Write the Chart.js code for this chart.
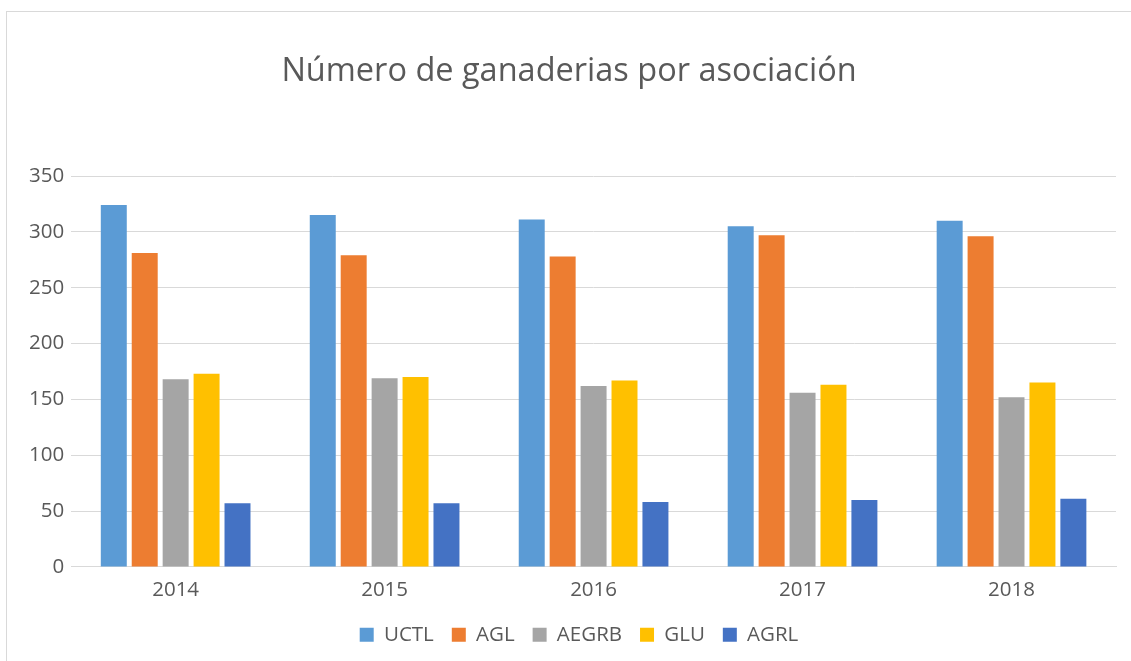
<!DOCTYPE html>
<html>
<head>
<meta charset="utf-8">
<script src="https://cdn.jsdelivr.net/npm/chart.js@4/dist/chart.umd.min.js"></script>
<style>
html,body{margin:0;padding:0;background:#fff;overflow:hidden;}
#frame{position:absolute;left:6px;top:11px;width:1140px;height:660px;border:1px solid #d9d9d9;box-sizing:border-box;}
#wrap{position:absolute;left:0;top:0;width:1131px;height:661px;}
</style>
</head>
<body>
<div id="frame"></div>
<div id="wrap"><canvas id="c" width="1131" height="661"></canvas></div>
<script>
const categories = ["2014", "2015", "2016", "2017", "2018"];
const seriesNames = ["UCTL", "AGL", "AEGRB", "GLU", "AGRL"];
const UCTL  = [324, 315, 311, 305, 310];
const AGL   = [281, 279, 278, 297, 296];
const AEGRB = [168, 169, 162, 156, 152];
const GLU   = [173, 170, 167, 163, 165];
const AGRL  = [57, 57, 58, 60, 61];
const yTicks = [0, 50, 100, 150, 200, 250, 300, 350];
const titleText = "Número de ganaderias por asociación";

const colors = ["#5B9BD5", "#ED7D31", "#A5A5A5", "#FFC000", "#4472C4"];
const values = [UCTL, AGL, AEGRB, GLU, AGRL];
const FONT = "'Open Sans', sans-serif";

const shiftLegend = {
  id: "shiftLegend",
  afterLayout(chart) {
    if (chart.legend) { chart.legend.left += 10; chart.legend.right += 10; }
  }
};

new Chart(document.getElementById("c"), {
  type: "bar",
  data: {
    labels: categories,
    datasets: seriesNames.map((n, i) => ({
      label: n,
      data: values[i],
      backgroundColor: colors[i],
      borderWidth: 0,
      categoryPercentage: 0.74,
      barPercentage: 0.84
    }))
  },
  plugins: [shiftLegend],
  options: {
    responsive: false,
    animation: false,
    layout: { padding: { left: 22, right: 15, top: 0, bottom: 6 } },
    plugins: {
      tooltip: { enabled: false },
      title: {
        display: true,
        text: titleText,
        color: "#595959",
        font: { family: FONT, size: 32.5, weight: "normal" },
        padding: { top: 52, bottom: 85 }
      },
      legend: {
        position: "bottom",
        labels: {
          color: "#595959",
          font: { family: FONT, size: 20.5 },
          boxWidth: 14,
          boxHeight: 14,
          padding: 18
        }
      }
    },
    scales: {
      x: {
        grid: { display: false },
        border: { display: true, color: "#d9d9d9", width: 1 },
        ticks: { color: "#595959", font: { family: FONT, size: 20.5 }, padding: 3 },
        afterFit: s => { s.height += 1; }
      },
      y: {
        min: 0, max: 350,
        afterBuildTicks: s => { s.ticks = yTicks.map(v => ({ value: v })); },
        grid: { color: "#d9d9d9", lineWidth: 1, drawTicks: false },
        border: { display: false },
        ticks: { color: "#595959", font: { family: FONT, size: 20.5 }, padding: 7 }
      }
    }
  }
});
</script>
</body>
</html>
